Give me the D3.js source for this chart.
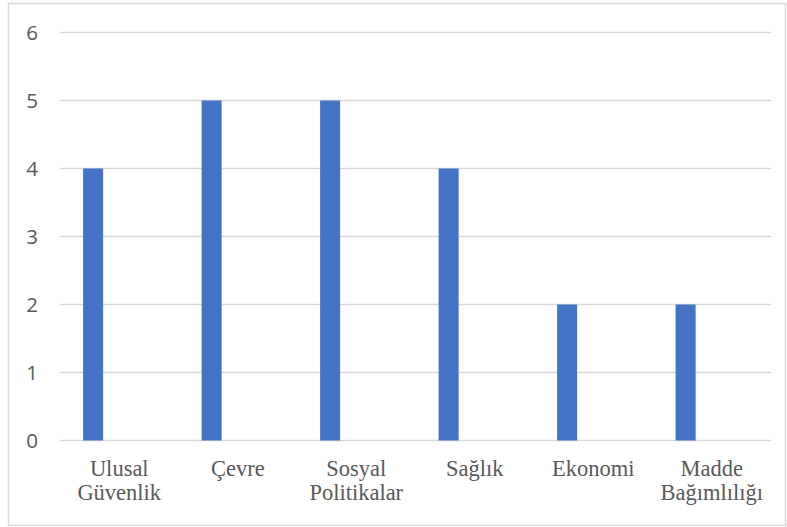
<!DOCTYPE html>
<html>
<head>
<meta charset="utf-8">
<script src="https://cdn.jsdelivr.net/npm/d3@7"></script>
<style>
  body { margin: 0; background: #fff; }
</style>
</head>
<body>
<svg id="chart" width="787" height="527"></svg>
<script>
// data
var categories = [["Ulusal", "Güvenlik"], ["Çevre"], ["Sosyal", "Politikalar"], ["Sağlık"], ["Ekonomi"], ["Madde", "Bağımlılığı"]];
var values = [4, 5, 5, 4, 2, 2];
var yTicks = [0, 1, 2, 3, 4, 5, 6];

var svg = d3.select("#chart");

// chart border
svg.append("rect")
  .attr("x", 8.5).attr("y", 3.5)
  .attr("width", 777).attr("height", 522)
  .attr("fill", "#fff")
  .attr("stroke", "#d9d9d9")
  .attr("stroke-width", 1.5);

var plotLeft = 60, plotRight = 771, plotTop = 32.5, plotBottom = 440.5;

var keys = categories.map(function(c) { return c.join(" "); });

var x = d3.scaleBand().domain(keys).range([plotLeft, plotRight]).padding(0);
var y = d3.scaleLinear().domain([0, 6]).range([plotBottom, plotTop]);

// gridlines
svg.append("g").selectAll("line")
  .data(yTicks)
  .join("line")
  .attr("x1", plotLeft).attr("x2", plotRight)
  .attr("y1", function(d) { return y(d); })
  .attr("y2", function(d) { return y(d); })
  .attr("stroke", "#d9d9d9")
  .attr("stroke-width", 1.5);

// y labels
svg.append("g").selectAll("text")
  .data(yTicks)
  .join("text")
  .attr("x", 38)
  .attr("y", function(d) { return y(d); })
  .attr("dy", "0.36em")
  .attr("text-anchor", "end")
  .style("font-family", "'Open Sans', sans-serif")
  .style("font-size", "20.5px")
  .attr("fill", "#595959")
  .text(function(d) { return d; });

// bars (second, empty series leaves the right half of each band blank)
var bw = x.bandwidth();
svg.append("g").selectAll("rect")
  .data(values)
  .join("rect")
  .attr("x", function(d, i) { return x(keys[i]) + bw * 0.195; })
  .attr("width", bw * 0.169)
  .attr("y", function(d) { return y(d); })
  .attr("height", function(d) { return y(0) - y(d); })
  .attr("fill", "#4472c4");

// category labels
var lab = svg.append("g").selectAll("text")
  .data(categories)
  .join("text")
  .attr("text-anchor", "middle")
  .style("font-family", "'Liberation Serif', 'Times New Roman', serif")
  .style("font-size", "22.5px")
  .attr("fill", "#595959")
  .attr("transform", function(d, i) { return "translate(" + (x(keys[i]) + bw / 2) + ",476)"; });

lab.selectAll("tspan")
  .data(function(d) { return d; })
  .join("tspan")
  .attr("x", 0)
  .attr("y", function(d, i) { return i * 23.5; })
  .text(function(d) { return d; });
</script>
</body>
</html>
